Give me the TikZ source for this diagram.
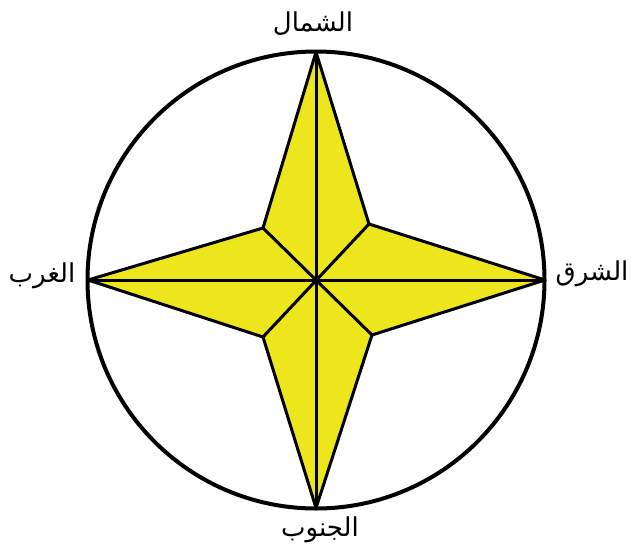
\documentclass[tikz,border=0pt]{standalone}
\usepackage{fontspec}
\newfontfamily\arabicfont[Script=Arabic]{DejaVu Sans}
\TeXXeTstate=1
\definecolor{staryellow}{RGB}{238,230,28}
\begin{document}
\begin{tikzpicture}[x=1pt,y=-1pt,
  lbl/.style={font=\arabicfont\fontsize{26}{30}\selectfont, inner sep=0pt},
  starline/.style={line width=3pt, line join=round}]
\useasboundingbox (0,0) rectangle (631,550);
\coordinate (C) at (316,280);
\coordinate (N) at (316,52);
\coordinate (S) at (316,508);
\coordinate (W) at (88,280);
\coordinate (E) at (545,280);
\coordinate (NW) at (263,228);
\coordinate (NE) at (369,224);
\coordinate (SE) at (372,335);
\coordinate (SW) at (263,337);
\fill[staryellow] (N) -- (NE) -- (E) -- (SE) -- (S) -- (SW) -- (W) -- (NW) -- cycle;
\draw[starline] (N) -- (NE) -- (E) -- (SE) -- (S) -- (SW) -- (W) -- (NW) -- cycle;
\draw[starline] (N) -- (S);
\draw[starline] (W) -- (E);
\draw[starline] (NW) -- (SE);
\draw[starline] (NE) -- (SW);
\draw[line width=4pt] (C) circle[radius=228.5];
\node[lbl] (north) at (313,24) {\beginR الشمال\endR};
\node[lbl] (south) at (320,530) {\beginR الجنوب\endR};
\node[lbl] (west) at (42,276) {\beginR الغرب\endR};
\node[lbl] (east) at (592,274) {\beginR الشرق\endR};
\end{tikzpicture}
\end{document}
